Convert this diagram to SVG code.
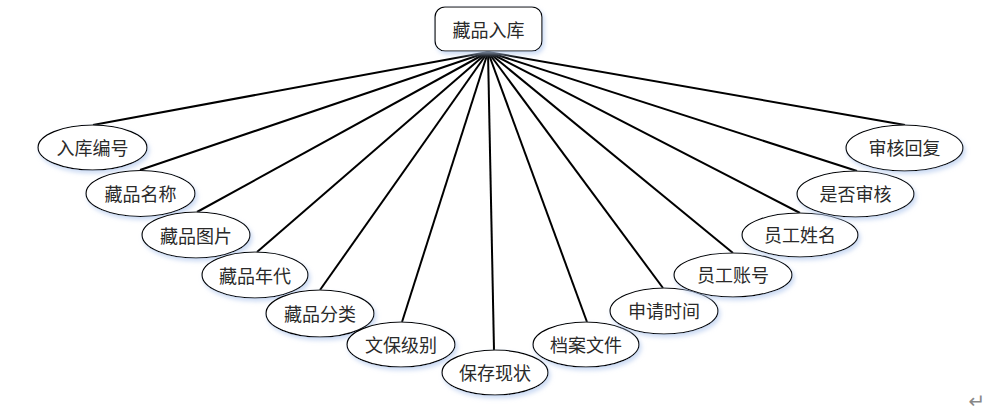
<svg xmlns="http://www.w3.org/2000/svg" width="999" height="416" viewBox="0 0 999 416">
<style>
.n{fill:#fff;stroke:#000;stroke-width:1.2;filter:url(#sh)}
.t{font-family:"Noto Sans CJK SC","Noto Sans",sans-serif;font-size:18px;fill:#2a2a2a;text-anchor:middle;dominant-baseline:central}
.c line{stroke:#000;stroke-width:2}
</style>
<defs>
<filter id="sh" x="-20%" y="-30%" width="140%" height="170%">
<feGaussianBlur in="SourceAlpha" stdDeviation="2" result="b"/>
<feOffset dx="2" dy="3" in="b" result="o"/>
<feFlood flood-color="#b8cdef" flood-opacity="0.7"/>
<feComposite in2="o" operator="in" result="s"/>
<feMerge><feMergeNode in="s"/><feMergeNode in="SourceGraphic"/></feMerge>
</filter>
</defs>
<g id="connectors" class="c">
<line x1="488" y1="52" x2="93" y2="125"/>
<line x1="488" y1="52" x2="140" y2="170"/>
<line x1="488" y1="52" x2="197" y2="212"/>
<line x1="488" y1="52" x2="257" y2="252"/>
<line x1="488" y1="52" x2="320" y2="290"/>
<line x1="488" y1="52" x2="402" y2="322"/>
<line x1="488" y1="52" x2="494" y2="350"/>
<line x1="488" y1="52" x2="587" y2="322"/>
<line x1="488" y1="52" x2="663" y2="288"/>
<line x1="488" y1="52" x2="733" y2="253"/>
<line x1="488" y1="52" x2="800" y2="213"/>
<line x1="488" y1="52" x2="857" y2="171"/>
<line x1="488" y1="52" x2="905" y2="125"/>
</g>
<g id="root"><rect class="n" x="435" y="7" width="107" height="44" rx="10"/><text class="t" x="488.5" y="29">藏品入库</text></g>
<g id="a1"><ellipse class="n" cx="92.5" cy="147.5" rx="54.5" ry="22.5"/><text class="t" x="92.5" y="147">入库编号</text></g>
<g id="a2"><ellipse class="n" cx="140.5" cy="193.5" rx="54.5" ry="23"/><text class="t" x="140.5" y="193">藏品名称</text></g>
<g id="a3"><ellipse class="n" cx="196" cy="235" rx="54" ry="23"/><text class="t" x="196" y="235">藏品图片</text></g>
<g id="a4"><ellipse class="n" cx="255" cy="275" rx="53" ry="23"/><text class="t" x="255" y="275">藏品年代</text></g>
<g id="a5"><ellipse class="n" cx="320" cy="313.5" rx="54" ry="23.5"/><text class="t" x="320" y="313">藏品分类</text></g>
<g id="a6"><ellipse class="n" cx="401" cy="344.5" rx="54" ry="22.5"/><text class="t" x="401" y="344">文保级别</text></g>
<g id="a7"><ellipse class="n" cx="495" cy="372.5" rx="53" ry="22.5"/><text class="t" x="495" y="372">保存现状</text></g>
<g id="a8"><ellipse class="n" cx="586" cy="344.5" rx="53" ry="22.5"/><text class="t" x="586" y="344">档案文件</text></g>
<g id="a9"><ellipse class="n" cx="664" cy="311" rx="54" ry="23"/><text class="t" x="664" y="310">申请时间</text></g>
<g id="a10"><ellipse class="n" cx="733" cy="275" rx="59" ry="22"/><text class="t" x="733" y="274">员工账号</text></g>
<g id="a11"><ellipse class="n" cx="800" cy="235" rx="58" ry="22"/><text class="t" x="800" y="234">员工姓名</text></g>
<g id="a12"><ellipse class="n" cx="855.5" cy="194" rx="58.5" ry="23"/><text class="t" x="855.5" y="193">是否审核</text></g>
<g id="a13"><ellipse class="n" cx="904.5" cy="148" rx="58.5" ry="23"/><text class="t" x="904.5" y="147">审核回复</text></g>
<text x="977" y="401" style="font-family:'DejaVu Sans',sans-serif;font-size:20px;fill:#888;text-anchor:middle;dominant-baseline:central">↵</text>
</svg>
